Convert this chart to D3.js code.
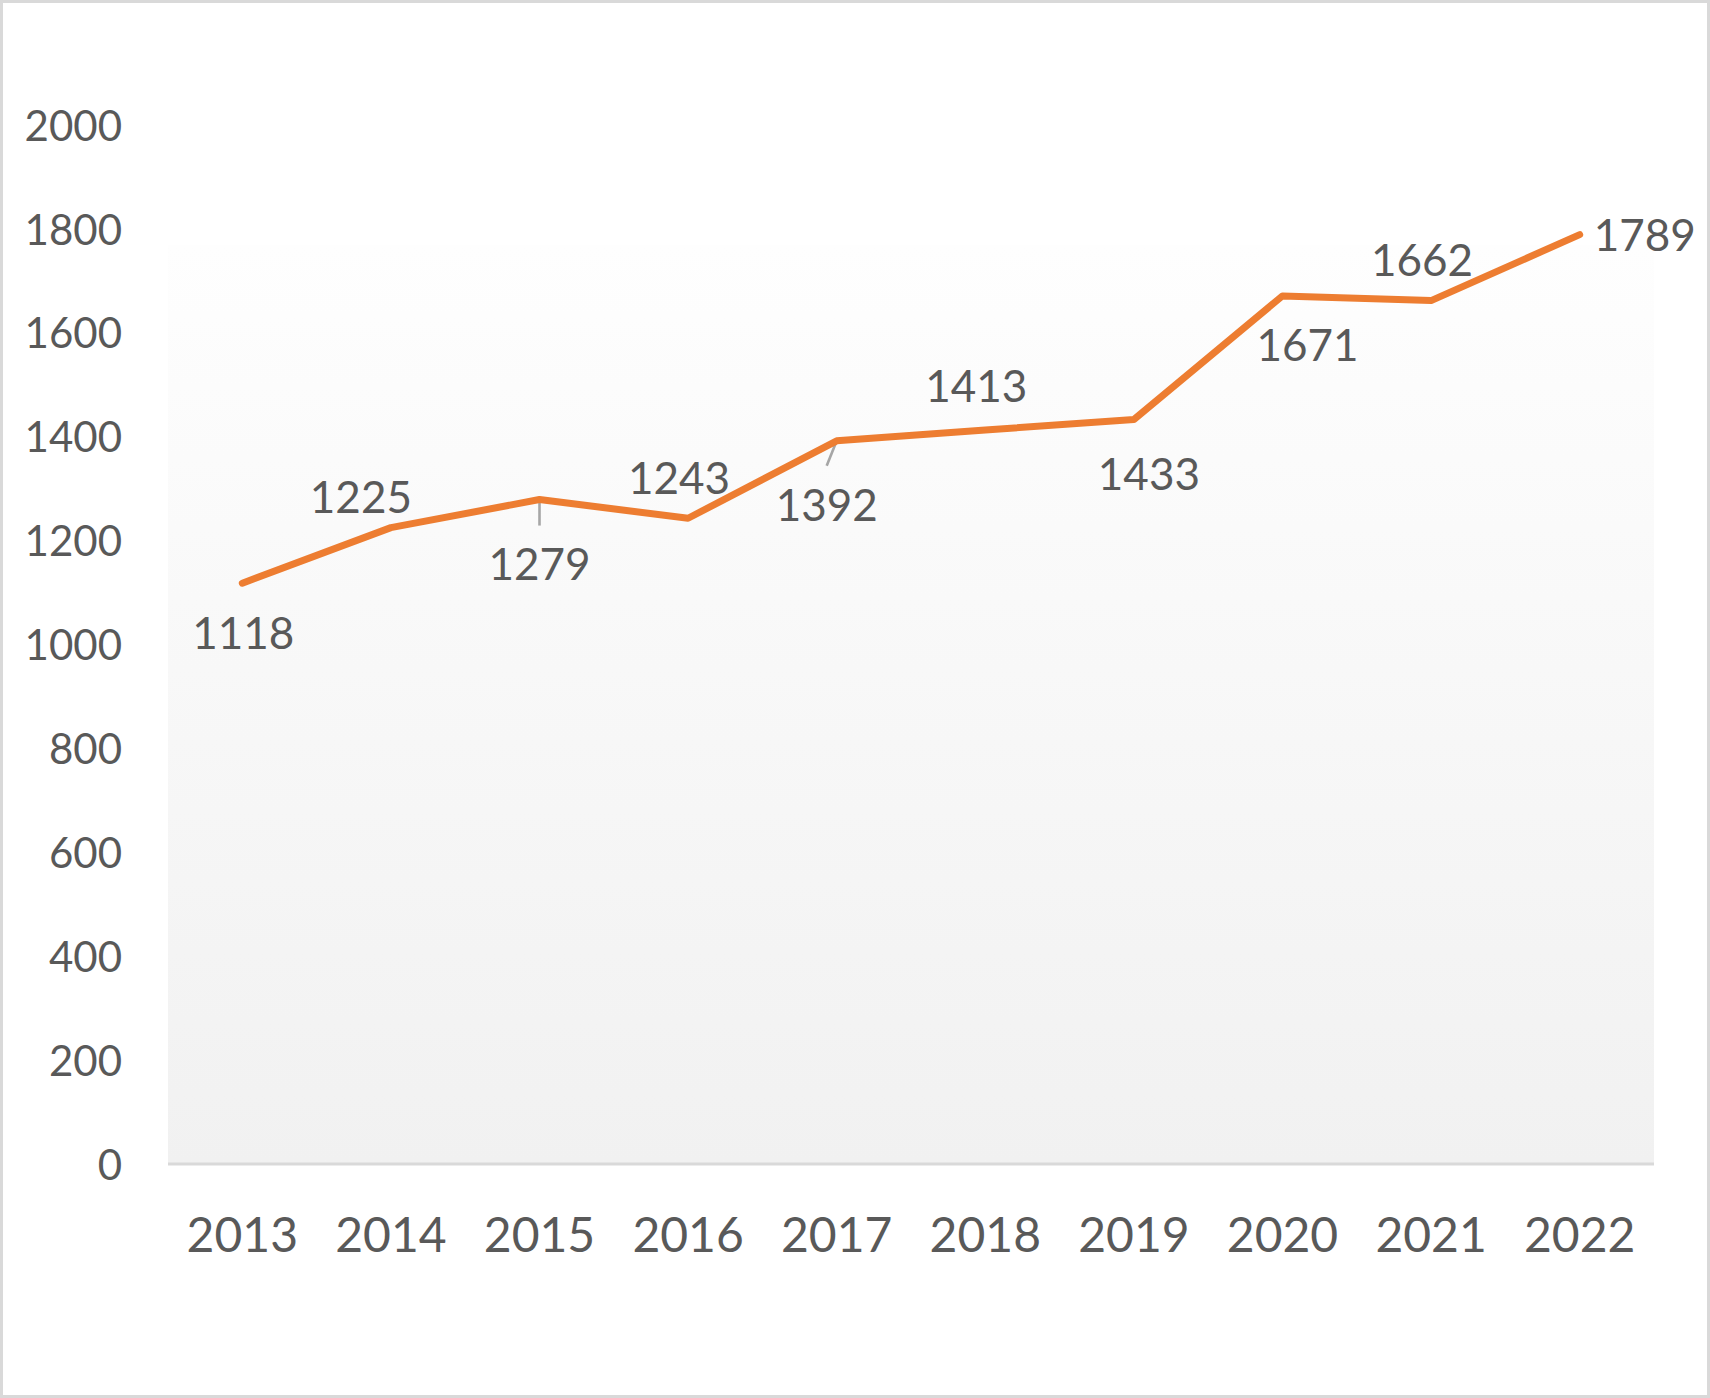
<!DOCTYPE html>
<html>
<head>
<meta charset="utf-8">
<script src="https://cdn.jsdelivr.net/npm/d3@7"></script>
<style>
  html, body { margin: 0; padding: 0; background: #fff; }
  svg { display: block; }
  text { font-family: Lato, "Open Sans", sans-serif; fill: #595959; }
</style>
</head>
<body>
<svg id="chart" width="1710" height="1398"></svg>
<script>
// ---- data ----
const years = ["2013","2014","2015","2016","2017","2018","2019","2020","2021","2022"];
const values = [1118, 1225, 1279, 1243, 1392, 1413, 1433, 1671, 1662, 1789];
const yTicks = [0, 200, 400, 600, 800, 1000, 1200, 1400, 1600, 1800, 2000];

// ---- label placement (pixel offsets of label centre from its point) ----
const labelDx = [1, -30, 0, -9, -10, -9, 15, 25, -9, 65];
const labelDy = [50, -30, 65, -40, 64, -44, 55, 49, -40, 1];
const labelLeader = [false, false, true, false, true, false, false, false, false, false];

const W = 1710, H = 1398;
const plot = { left: 168, right: 1654, top: 245, bottom: 1164 };

const svg = d3.select("#chart");

// gradient for plot area
const defs = svg.append("defs");
const grad = defs.append("linearGradient").attr("id", "pg")
  .attr("x1", 0).attr("y1", 0).attr("x2", 0).attr("y2", 1);
grad.append("stop").attr("offset", "0%").attr("stop-color", "#fefefe");
grad.append("stop").attr("offset", "100%").attr("stop-color", "#f1f1f1");

// outer border
svg.append("rect").attr("x", 1.5).attr("y", 1.5).attr("width", W - 3).attr("height", H - 3)
  .attr("fill", "#fff").attr("stroke", "#d9d9d9").attr("stroke-width", 3);

const x = d3.scaleBand().domain(years).range([plot.left, plot.right]).padding(0);
const y = d3.scaleLinear().domain([0, 2000]).range([1164, 125]);

// plot area background
svg.append("rect")
  .attr("x", plot.left).attr("y", plot.top)
  .attr("width", plot.right - plot.left).attr("height", plot.bottom - plot.top)
  .attr("fill", "url(#pg)");

// y axis
const yAxis = svg.append("g")
  .attr("transform", `translate(${plot.left},0)`)
  .call(d3.axisLeft(y).tickValues(yTicks).tickSize(0).tickPadding(46).tickFormat(d3.format("d")));
yAxis.select(".domain").remove();
yAxis.selectAll("text")
  .attr("font-size", 42).attr("dy", "0.36em")
  .style("font-family", "Lato, sans-serif").attr("fill", "#595959");

// x axis
const xAxis = svg.append("g")
  .attr("transform", `translate(0,${y(0)})`)
  .call(d3.axisBottom(x).tickSize(0).tickPadding(0));
xAxis.select(".domain").attr("stroke", "#d9d9d9").attr("stroke-width", 3)
  .attr("d", `M${plot.left},0H${plot.right}`);
xAxis.selectAll("text")
  .attr("font-size", 48).attr("y", 88).attr("dy", 0)
  .style("font-family", "Lato, sans-serif").attr("fill", "#595959");

// line
const pts = years.map((yr, i) => ({ yr, v: values[i], px: x(yr) + x.bandwidth() / 2, py: y(values[i]), i }));
const line = d3.line().x(d => d.px).y(d => d.py);

// leader lines
svg.append("g").selectAll("line")
  .data(pts.filter(d => labelLeader[d.i]))
  .join("line")
  .attr("x1", d => d.px).attr("y1", d => d.py)
  .attr("x2", d => d.px + labelDx[d.i]).attr("y2", d => d.py + labelDy[d.i] - 39)
  .attr("stroke", "#a6a6a6").attr("stroke-width", 2.6);

svg.append("path")
  .datum(pts)
  .attr("d", line)
  .attr("fill", "none")
  .attr("stroke", "#ED7D31")
  .attr("stroke-width", 7)
  .attr("stroke-linejoin", "round")
  .attr("stroke-linecap", "round");

// data labels
svg.append("g").selectAll("text")
  .data(pts)
  .join("text")
  .attr("x", d => d.px + labelDx[d.i])
  .attr("y", d => d.py + labelDy[d.i])
  .attr("dy", "0.36em")
  .attr("text-anchor", "middle")
  .attr("font-size", 44)
  .text(d => d.v);
</script>
</body>
</html>
